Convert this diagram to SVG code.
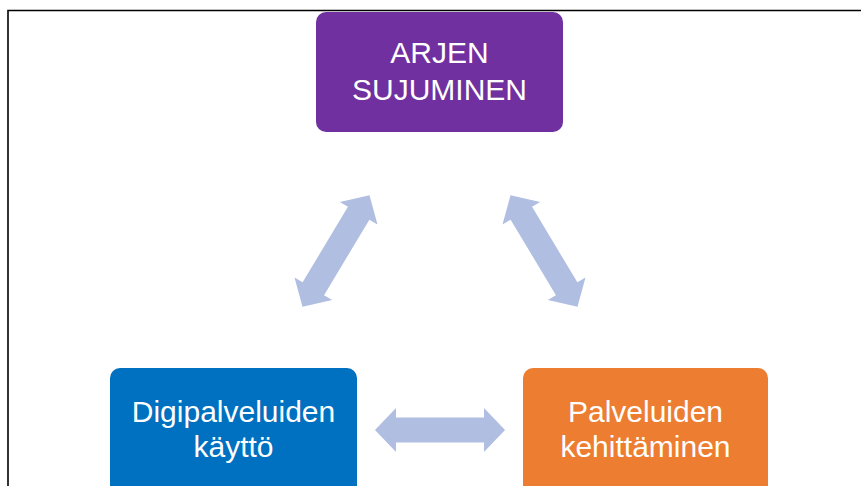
<svg xmlns="http://www.w3.org/2000/svg" width="861" height="486" viewBox="0 0 861 486">
<defs>
<style>
.box-label{font-family:"Liberation Sans",Arial,sans-serif;font-size:30px;fill:#ffffff;text-anchor:middle}
.arrow{fill:#B0BEE1}
</style>
<polygon id="dbl" points="-65,0 -44,-22 -44,-12.5 44,-12.5 44,-22 65,0 44,22 44,12.5 -44,12.5 -44,22"/>
</defs>
<rect x="0" y="0" width="861" height="486" fill="#ffffff"/>
<path d="M8,486 V10.5 H861" fill="none" stroke="#000000" stroke-width="1.6"/>
<g id="connectors">
<use href="#dbl" class="arrow" transform="translate(336,251) rotate(-59)"/>
<use href="#dbl" class="arrow" transform="translate(544,251) rotate(59)"/>
<use href="#dbl" class="arrow" transform="translate(440,430)"/>
</g>
<g id="arjen">
<rect x="316" y="12" width="247" height="120" rx="10" fill="#7030A0"/>
<text class="box-label" x="439.5" y="63">ARJEN</text>
<text class="box-label" x="439.5" y="100">SUJUMINEN</text>
</g>
<g id="digipalveluiden">
<rect x="110" y="368" width="247" height="130" rx="10" fill="#0070C0"/>
<text class="box-label" x="233.5" y="422">Digipalveluiden</text>
<text class="box-label" x="233.5" y="457">käyttö</text>
</g>
<g id="palveluiden">
<rect x="523" y="368" width="245" height="130" rx="10" fill="#ED7D31"/>
<text class="box-label" x="645.5" y="422">Palveluiden</text>
<text class="box-label" x="645.5" y="457">kehittäminen</text>
</g>
</svg>
